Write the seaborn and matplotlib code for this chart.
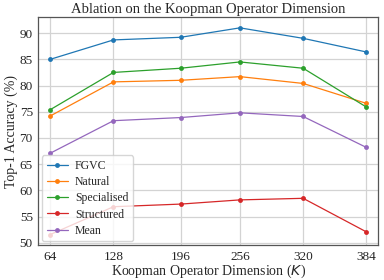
import pandas as pd
import matplotlib
matplotlib.use('Agg')
import matplotlib.pyplot as plt
import seaborn as sns

# Koopman dimension and accuracy per group
dims = [64, 128, 196, 256, 320, 384]
fgvc = [85.0, 88.7, 89.2, 91.0, 89.0, 86.4]
natural = [74.2, 80.7, 81.0, 81.7, 80.4, 76.6]
specialised = [75.4, 82.5, 83.3, 84.5, 83.3, 75.9]
structured = [51.6, 56.9, 57.4, 58.2, 58.5, 52.1]
mean = [67.1, 73.3, 73.9, 74.8, 74.1, 68.2]

groups = ['FGVC', 'Natural', 'Specialised', 'Structured', 'Mean']
values = [fgvc, natural, specialised, structured, mean]

rows = []
for g, vals in zip(groups, values):
    for d, v in zip(dims, vals):
        rows.append({'dim': d, 'acc': v, 'group': g})
data = pd.DataFrame(rows)

sns.set_style('whitegrid')
plt.rcParams['font.family'] = ['Liberation Serif', 'DejaVu Serif']
plt.rcParams['mathtext.fontset'] = 'dejavusans'

fig, ax = plt.subplots(figsize=(3.84, 2.8), dpi=100)
sns.lineplot(data=data, x='dim', y='acc', hue='group', hue_order=groups,
             palette=sns.color_palette('tab10', 5), marker='o', markersize=3.5,
             markeredgewidth=0, linewidth=0.9, ax=ax)

ax.set_xticks(dims)
ax.set_yticks([50, 55, 60, 65, 70, 75, 80, 85, 90])
ax.set_ylim(49.6, 93)
ax.set_xlim(52, 396)
ax.tick_params(labelsize=9.5, length=3, color='#444444', pad=1)
ax.grid(color='#d3d3d3', linewidth=0.9)
for s in ax.spines.values():
    s.set_color('#555555')
    s.set_linewidth(0.9)

ax.set_title('Ablation on the Koopman Operator Dimension', fontsize=10.5, pad=3)
ax.set_xlabel('Koopman Operator Dimension ($K$)', fontsize=10, labelpad=0)
ax.set_ylabel('Top-1 Accuracy (%)', fontsize=10, labelpad=1)

ax.legend(title=None, loc='lower left', fontsize=8.5, framealpha=0.8,
          borderaxespad=0.3, handlelength=1.8, handletextpad=0.6,
          labelspacing=0.35)

plt.subplots_adjust(left=0.1, right=0.985, top=0.938, bottom=0.125)
plt.savefig('out.png', dpi=100)
